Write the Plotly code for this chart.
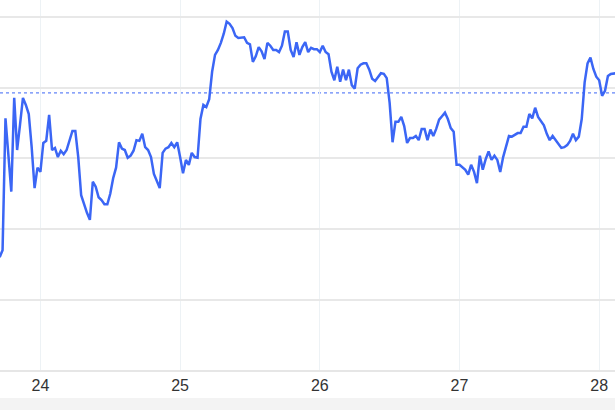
import pandas as pd
import plotly.graph_objects as go

# Price series sampled every 30 minutes, starting 23 Jun 17:00
start_time = "2024-06-23 17:00"
step = "30min"
prices = [
    116.0, 117.0, 135.7, 130.5, 125.3, 138.6, 131.2, 134.8, 138.6, 137.6,
    136.3, 131.6, 125.8, 128.7, 128.1, 132.2, 132.5, 136.2, 131.2, 131.5,
    130.2, 131.1, 130.6, 131.2, 132.6, 133.9, 133.9, 130.2, 124.8, 123.4,
    122.3, 121.3, 126.7, 126.0, 124.5, 124.1, 123.5, 123.5, 125.0, 127.2,
    128.7, 132.3, 131.4, 131.2, 130.1, 130.4, 131.1, 132.6, 132.5, 133.5,
    131.6, 131.2, 130.2, 127.8, 126.8, 125.8, 130.8, 131.4, 131.6, 132.2,
    131.6, 132.3, 130.2, 127.9, 129.8, 129.1, 130.8, 130.2, 130.1, 135.6,
    137.6, 137.3, 138.4, 142.3, 144.7, 145.4, 146.4, 147.7, 149.4, 149.1,
    148.5, 147.4, 147.1, 147.2, 147.2, 146.4, 146.2, 143.7, 144.5, 145.8,
    145.2, 144.1, 146.4, 146.0, 145.4, 145.4, 145.1, 146.0, 148.0, 148.0,
    145.4, 144.4, 146.5, 144.7, 145.8, 146.5, 145.1, 145.7, 145.5, 145.5,
    145.1, 146.0, 145.1, 144.8, 142.3, 141.1, 143.0, 140.9, 142.6, 141.1,
    142.6, 140.4, 139.9, 142.8, 143.3, 143.5, 143.5, 142.6, 141.3, 141.0,
    141.6, 142.1, 142.0, 141.4, 137.9, 132.3, 135.2, 135.2, 135.9, 134.6,
    132.2, 132.9, 132.9, 133.2, 132.6, 134.2, 134.2, 132.6, 134.1, 133.2,
    134.2, 135.5, 136.0, 136.5, 135.6, 134.3, 133.8, 129.1, 129.1, 128.7,
    128.4, 127.7, 129.1, 128.1, 126.5, 130.4, 128.4, 129.9, 131.0, 129.8,
    130.4, 129.8, 128.1, 130.2, 131.9, 133.2, 133.1, 133.3, 133.6, 133.6,
    134.5, 134.5, 136.3, 135.7, 137.2, 135.9, 135.2, 134.7, 133.5, 132.6,
    133.2, 132.6, 132.1, 131.5, 131.6, 131.9, 132.5, 133.5, 132.6, 133.1,
    135.6, 140.8, 143.5, 144.3, 142.7, 141.6, 141.1, 138.9, 139.6, 141.7,
    142.0, 142.1, 142.1,
]
prev_close = 139.3
tick_dates = ["2024-06-24", "2024-06-25", "2024-06-26", "2024-06-27", "2024-06-28"]
tick_labels = ["24", "25", "26", "27", "28"]
y_grid = [100, 110, 120, 130, 140, 150]

times = pd.date_range(start=start_time, periods=len(prices), freq=step)

LINE = "#3b66f5"

fig = go.Figure()
fig.add_trace(go.Scatter(
    x=times, y=prices, mode="lines",
    line=dict(color=LINE, width=2.5),
    hoverinfo="skip", showlegend=False,
))

fig.add_shape(type="line", xref="paper", x0=0, x1=1, yref="y",
              y0=prev_close, y1=prev_close,
              line=dict(color=LINE, width=1, dash="dot"), layer="below")

# grey footer band
fig.add_shape(type="rect", xref="paper", x0=-0.01, x1=1.01, yref="paper",
              y0=-0.2, y1=-0.0757, fillcolor="#f3f3f3",
              line=dict(width=0), layer="below")

fig.update_layout(
    width=615, height=410,
    margin=dict(l=0, r=0, t=0, b=40),
    paper_bgcolor="white", plot_bgcolor="white",
    font=dict(family="Liberation Sans, Arial, sans-serif", size=16, color="#333333"),
    xaxis=dict(
        type="date",
        range=["2024-06-23 17:03:30", "2024-06-28 02:43:00"],
        tickvals=tick_dates, ticktext=tick_labels,
        showgrid=True, gridcolor="#edf2f5", gridwidth=1,
        showline=True, linecolor="#e6e6e6", linewidth=2,
        ticks="", zeroline=False, fixedrange=True,
    ),
    yaxis=dict(
        range=[100, 152.48],
        tickvals=y_grid, showticklabels=False,
        showgrid=True, gridcolor="#e8e8e8", gridwidth=1.5,
        zeroline=False, ticks="", fixedrange=True,
    ),
)

fig.write_html(
    "out.html",
    config={"displayModeBar": False},
    post_script="document.body.style.margin='0';document.body.style.overflow='hidden';",
)
